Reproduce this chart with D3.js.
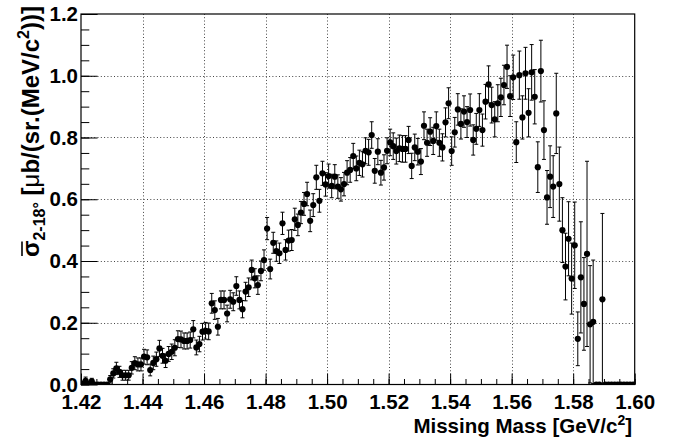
<!DOCTYPE html>
<html>
<head>
<meta charset="utf-8">
<script src="https://cdn.jsdelivr.net/npm/d3@7"></script>
<style>
body { margin: 0; background: #fff; }
text { font-family: "Liberation Sans", Arial, sans-serif; font-weight: bold; }
</style>
</head>
<body>
<svg id="chart" width="681" height="439"></svg>
<script>
// histogram binning (1 MeV bins from 1.420 to 1.600)
var binLow = 1.420;
var binWidth = 0.001;

var xTicks = [1.42, 1.44, 1.46, 1.48, 1.50, 1.52, 1.54, 1.56, 1.58, 1.60];
var xLabels = ["1.42", "1.44", "1.46", "1.48", "1.50", "1.52", "1.54", "1.56", "1.58", "1.60"];
var yTicks = [0, 0.2, 0.4, 0.6, 0.8, 1.0, 1.2];
var yLabels = ["0.0", "0.2", "0.4", "0.6", "0.8", "1.0", "1.2"];

// cross section per bin
var sigma = [
  0.003, 0.012, 0.002, 0.010, 0, 0, 0, 0, 0, 0.017,
  0.036, 0.052, 0.041, 0.030, 0.030, 0.030, 0.054, 0.069, 0.065, 0.065,
  0.090, 0.088, 0.047, 0.070, 0.082, 0.117, 0.093, 0.077, 0.099, 0.106,
  0.119, 0.147, 0.146, 0.141, 0.141, 0.144, 0.179, 0.120, 0.131, 0.171,
  0.174, 0.172, 0.263, 0.241, 0.187, 0.274, 0.274, 0.230, 0.276, 0.268,
  0.319, 0.274, 0.244, 0.301, 0.315, 0.371, 0.344, 0.322, 0.368, 0.403,
  0.505, 0.374, 0.459, 0.432, 0.425, 0.522, 0.436, 0.466, 0.468, 0.535,
  0.517, 0.557, 0.585, 0.617, 0.530, 0.581, 0.671, 0.595, 0.684, 0.648,
  0.675, 0.643, 0.673, 0.641, 0.632, 0.649, 0.686, 0.695, 0.740, 0.700,
  0.718, 0.713, 0.757, 0.752, 0.808, 0.692, 0.754, 0.686, 0.703, 0.757,
  0.784, 0.772, 0.756, 0.765, 0.763, 0.763, 0.792, 0.708, 0.768, 0.754,
  0.722, 0.838, 0.783, 0.819, 0.789, 0.837, 0.783, 0.768, 0.849, 0.911,
  0.756, 0.817, 0.891, 0.844, 0.884, 0.850, 0.889, 0.792, 0.828, 0.889,
  0.824, 0.916, 0.972, 0.905, 0.859, 0.911, 0.930, 0.970, 1.029, 0.934,
  0.995, 0.785, 1.002, 0.865, 1.008, 0.880, 1.011, 0.932, 0.704, 1.015,
  0.824, 0.606, 0.673, 0.641, 0.878, 0.649, 0.500, 0.382, 0.472, 0.343,
  0.451, 0.148, 0.347, 0.261, 0.423, 0.195, 0.203, 0, 0, 0.276,
  0, 0, 0, 0, 0, 0, 0, 0, 0, 0
];

var sigmaErr = [
  0.006, 0.012, 0.005, 0.010, 0, 0, 0, 0, 0, 0.012,
  0.015, 0.020, 0.018, 0.016, 0.016, 0.016, 0.020, 0.021, 0.021, 0.021,
  0.024, 0.024, 0.019, 0.022, 0.023, 0.026, 0.024, 0.022, 0.024, 0.025,
  0.026, 0.027, 0.027, 0.026, 0.026, 0.026, 0.028, 0.024, 0.025, 0.027,
  0.027, 0.027, 0.032, 0.030, 0.027, 0.029, 0.029, 0.027, 0.029, 0.029,
  0.030, 0.029, 0.028, 0.030, 0.030, 0.032, 0.031, 0.030, 0.032, 0.033,
  0.036, 0.032, 0.034, 0.033, 0.033, 0.036, 0.033, 0.034, 0.034, 0.036,
  0.035, 0.036, 0.037, 0.038, 0.035, 0.037, 0.039, 0.037, 0.039, 0.038,
  0.039, 0.038, 0.039, 0.038, 0.038, 0.038, 0.039, 0.040, 0.041, 0.040,
  0.041, 0.041, 0.042, 0.042, 0.043, 0.040, 0.042, 0.040, 0.041, 0.042,
  0.043, 0.043, 0.042, 0.043, 0.043, 0.043, 0.044, 0.041, 0.043, 0.043,
  0.042, 0.045, 0.044, 0.045, 0.044, 0.046, 0.044, 0.044, 0.047, 0.050,
  0.046, 0.048, 0.051, 0.049, 0.051, 0.050, 0.052, 0.049, 0.050, 0.053,
  0.052, 0.056, 0.060, 0.058, 0.057, 0.060, 0.062, 0.064, 0.070, 0.066,
  0.072, 0.066, 0.078, 0.070, 0.084, 0.078, 0.090, 0.088, 0.082, 0.100,
  0.095, 0.087, 0.100, 0.100, 0.130, 0.120, 0.105, 0.108, 0.120, 0.115,
  0.140, 0.087, 0.180, 0.150, 0.300, 0.190, 0.200, 0, 0, 0.278,
  0, 0, 0, 0, 0, 0, 0, 0, 0, 0
];

var svg = d3.select("#chart");

var x = d3.scaleLinear().domain([1.42, 1.60]).range([81, 634.7]);
var y = d3.scaleLinear().domain([0, 1.2]).range([384.5, 14]);

var points = sigma.map(function(v, i) {
  return {m: binLow + (i + 0.5) * binWidth, v: v, e: sigmaErr[i]};
});

// dotted grid
var grid = svg.append("g")
  .attr("stroke", "#444")
  .attr("stroke-width", 1)
  .attr("stroke-dasharray", "1,2.3");

grid.selectAll(".gx").data(xTicks.slice(1, -1)).enter().append("line")
  .attr("x1", function(d) { return Math.round(x(d)) + 0.5; })
  .attr("x2", function(d) { return Math.round(x(d)) + 0.5; })
  .attr("y1", y(0)).attr("y2", y(1.2));

grid.selectAll(".gy").data(yTicks.slice(1, -1)).enter().append("line")
  .attr("y1", function(d) { return Math.round(y(d)) + 0.5; })
  .attr("y2", function(d) { return Math.round(y(d)) + 0.5; })
  .attr("x1", x(1.42)).attr("x2", x(1.60));

// axes, ticks pointing inwards like ROOT
var xAxis = d3.axisBottom(x).tickValues(xTicks)
  .tickFormat(function(d, i) { return xLabels[i]; })
  .tickSizeInner(-11).tickSizeOuter(0).tickPadding(10);
var xMinor = d3.axisBottom(x).tickValues(d3.range(1.42, 1.6001, 0.005))
  .tickFormat("").tickSizeInner(-5.5).tickSizeOuter(0);
var yAxis = d3.axisLeft(y).tickValues(yTicks)
  .tickFormat(function(d, i) { return yLabels[i]; })
  .tickSizeInner(-16.6).tickSizeOuter(0).tickPadding(3);
var yMinor = d3.axisLeft(y).tickValues(d3.range(0, 1.2001, 0.05))
  .tickFormat("").tickSizeInner(-8.3).tickSizeOuter(0);

[xAxis, xMinor].forEach(function(a) {
  svg.append("g").attr("class", "axis")
    .attr("transform", "translate(0," + y(0) + ")").call(a);
});
[yAxis, yMinor].forEach(function(a) {
  svg.append("g").attr("class", "axis")
    .attr("transform", "translate(" + x(1.42) + ",0)").call(a);
});

svg.selectAll(".axis .domain").remove();
svg.selectAll(".axis")
  .attr("font-family", null)
  .attr("font-size", 20.5);
svg.selectAll(".axis text").attr("fill", "#000");

// frame
svg.append("rect")
  .attr("x", x(1.42)).attr("y", y(1.2))
  .attr("width", x(1.60) - x(1.42)).attr("height", y(0) - y(1.2))
  .attr("fill", "none").attr("stroke", "#000").attr("stroke-width", 1.2);

// data points with error bars, clipped to the frame
svg.append("clipPath").attr("id", "frame").append("rect")
  .attr("x", x(1.42)).attr("y", y(1.2))
  .attr("width", x(1.60) - x(1.42)).attr("height", y(0) - y(1.2));

var marks = svg.append("g").attr("clip-path", "url(#frame)");

var withErr = points.filter(function(d) { return d.e > 0; });

marks.selectAll(".bar").data(withErr).enter().append("line")
  .attr("x1", function(d) { return x(d.m); })
  .attr("x2", function(d) { return x(d.m); })
  .attr("y1", function(d) { return y(d.v - d.e); })
  .attr("y2", function(d) { return y(d.v + d.e); })
  .attr("stroke", "#000").attr("stroke-width", 1);

["lo", "hi"].forEach(function(side) {
  marks.selectAll(".cap-" + side).data(withErr).enter().append("line")
    .attr("x1", function(d) { return x(d.m) - 2; })
    .attr("x2", function(d) { return x(d.m) + 2; })
    .attr("y1", function(d) { return y(side == "lo" ? d.v - d.e : d.v + d.e); })
    .attr("y2", function(d) { return y(side == "lo" ? d.v - d.e : d.v + d.e); })
    .attr("stroke", "#000").attr("stroke-width", 1);
});

marks.selectAll("circle").data(points).enter().append("circle")
  .attr("cx", function(d) { return x(d.m); })
  .attr("cy", function(d) { return y(d.v); })
  .attr("r", 3.1)
  .attr("fill", "#000");

// axis titles
var xTitle = svg.append("text")
  .attr("x", 632).attr("y", 433)
  .attr("text-anchor", "end")
  .attr("font-size", 20.5);
xTitle.append("tspan").text("Missing Mass [GeV/c");
xTitle.append("tspan").attr("font-size", 14).attr("dy", -8).text("2");
xTitle.append("tspan").attr("dy", 8).text("]");

var yTitleG = svg.append("g").attr("transform", "translate(39,6) rotate(-90)");
var yTitle = yTitleG.append("text")
  .attr("text-anchor", "end")
  .attr("font-size", 24);
var sig = yTitle.append("tspan").text("\u03c3");
yTitle.append("tspan").attr("font-size", 16).attr("dy", 6).text("2-18\u00b0");
yTitle.append("tspan").attr("dy", -6).text(" [");
yTitle.append("tspan").attr("font-weight", "normal").text("\u03bc");
yTitle.append("tspan").text("b/(sr.(MeV/c");
yTitle.append("tspan").attr("font-size", 16).attr("dy", -10).text("2");
yTitle.append("tspan").attr("dy", 10).text("))]");

// overline over sigma
var sb = sig.node().getBBox();
yTitleG.append("line")
  .attr("x1", sb.x + 1).attr("x2", sb.x + sb.width - 1)
  .attr("y1", -17).attr("y2", -17)
  .attr("stroke", "#000").attr("stroke-width", 1.6);
</script>
</body>
</html>
